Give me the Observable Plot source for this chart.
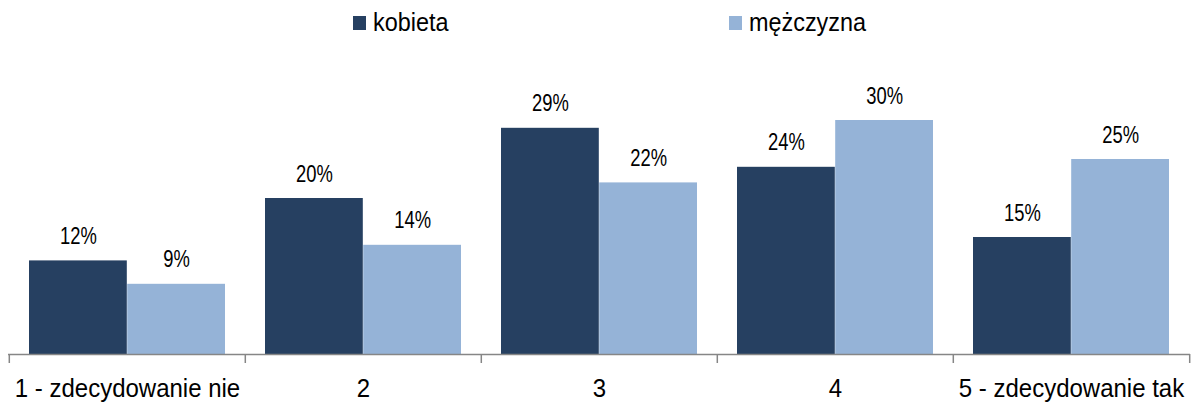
<!DOCTYPE html>
<html>
<head>
<meta charset="utf-8">
<script src="https://cdn.jsdelivr.net/npm/d3@7"></script>
<script src="https://cdn.jsdelivr.net/npm/@observablehq/plot@0.6"></script>
<style>
  html, body { margin: 0; padding: 0; background: #fff; }
  body { width: 1192px; height: 407px; overflow: hidden; font-family: "Liberation Sans", Arial, sans-serif; }
  .legend { height: 45px; display: flex; align-items: flex-start; padding-left: 353px; box-sizing: border-box; }
  .legend .item { display: flex; align-items: center; height: 28px; margin-top: 8px; font-size: 26px; color: #000; }
  .legend .item + .item { margin-left: 272px; }
  .legend .sw { width: 13px; height: 14px; margin-right: 7px; margin-top: 2px; }
  .legend .item span { display: inline-block; transform: scaleX(0.9); transform-origin: left center; }
  svg { display: block; }
</style>
</head>
<body>
<div class="legend" id="legend"></div>
<div id="chart"></div>
<script>
// Answers on a 1–5 scale, share of respondents by sex (%)
const categories = ["1 - zdecydowanie nie", "2", "3", "4", "5 - zdecydowanie tak"];
const series = ["kobieta", "mężczyzna"];
const kobieta = [12, 20, 29, 24, 15];
const mezczyzna = [9, 14, 22, 30, 25];
const colors = ["#264061", "#95b3d7"];

const width = 1192, height = 362;
const marginLeft = 8, marginRight = 2, marginTop = 36, marginBottom = 53;
const bw = (width - marginLeft - marginRight) / categories.length;
const gap = 20;
const half = bw / 2;
const shift = (half - gap) / 2; // offset of each bar's centre from the band centre

const rows = [kobieta, mezczyzna].map((vals, s) =>
  categories.map((c, i) => ({category: c, series: series[s], value: vals[i]}))
);

// legend
const legend = d3.select("#legend");
series.forEach((s, i) => {
  const item = legend.append("div").attr("class", "item");
  item.append("div").attr("class", "sw").style("background", colors[i]);
  item.append("span").text(s);
});

const labelFont = {fontSize: 23, fill: "#000", className: "value-label"};

const chart = Plot.plot({
  width, height, marginLeft, marginRight, marginTop, marginBottom,
  style: {fontFamily: "'Liberation Sans', Arial, sans-serif", background: "#fff"},
  x: {type: "band", domain: categories, padding: 0, axis: null},
  y: {domain: [0, 35], axis: null},
  marks: [
    Plot.barY(rows[0], {x: "category", y: "value", fill: colors[0], insetLeft: gap, insetRight: half}),
    Plot.barY(rows[1], {x: "category", y: "value", fill: colors[1], insetLeft: half, insetRight: gap}),
    Plot.text(rows[0], {x: "category", y: "value", text: d => `${d.value}%`, dx: -shift, lineAnchor: "bottom", dy: -17, ...labelFont}),
    Plot.text(rows[1], {x: "category", y: "value", text: d => `${d.value}%`, dx: shift, lineAnchor: "bottom", dy: -17, ...labelFont}),
    Plot.ruleY([0], {stroke: "#868686", strokeWidth: 1.5}),
    Plot.ruleX(categories, {x: d => d, y1: 0, y2: 0, insetBottom: -9, dx: -half, stroke: "#868686", strokeWidth: 1.5}),
    Plot.ruleX(categories.slice(-1), {x: d => d, y1: 0, y2: 0, insetBottom: -9, dx: half, stroke: "#868686", strokeWidth: 1.5}),
    Plot.text(categories, {x: d => d, y: 0, text: d => d, lineAnchor: "bottom", dy: 42, fontSize: 25, fill: "#000", className: "category-label"})
  ]
});

// slightly condensed lettering: narrow each label horizontally around its anchor
const narrow = (selector, k) =>
  d3.select(chart).selectAll(selector)
    .attr("transform", function() { return `${this.getAttribute("transform") || ""} scale(${k},1)`; });
narrow(".value-label text", 0.8);
narrow(".category-label text", 0.96);

document.getElementById("chart").append(chart);
</script>
</body>
</html>
